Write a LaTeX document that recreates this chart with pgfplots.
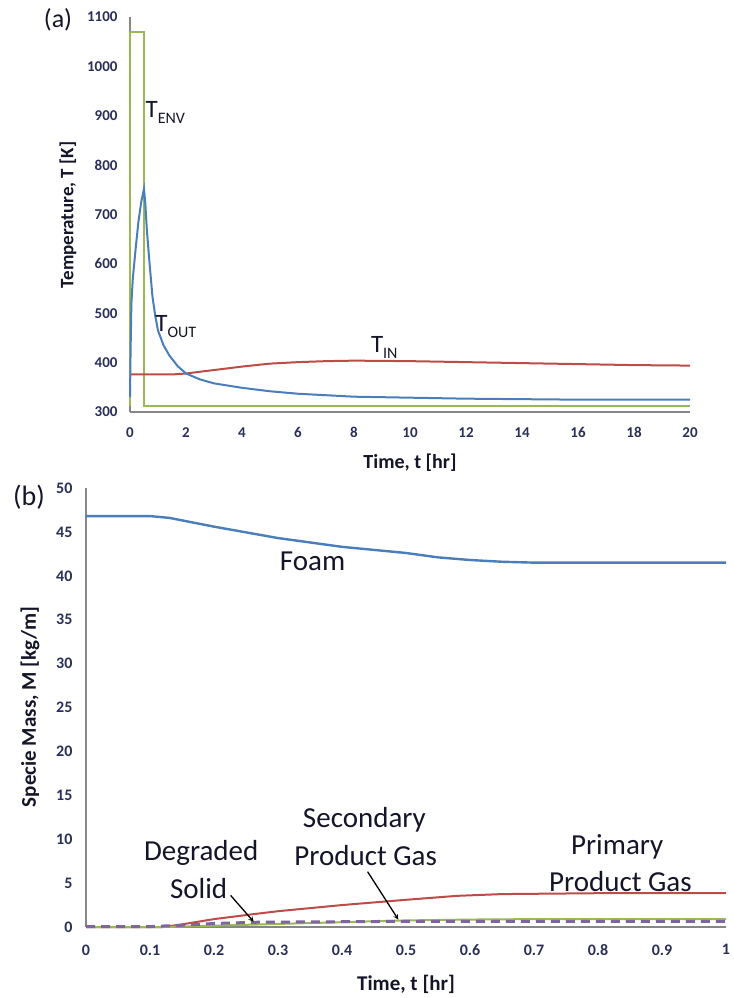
\documentclass[border=0pt]{standalone}
\usepackage{pgfplots}
\pgfplotsset{compat=1.18}
\usepackage{fontspec}
\setmainfont{Carlito}
\definecolor{cblue}{HTML}{4A7EBB}
\definecolor{cred}{HTML}{BE4B48}
\definecolor{cgreen}{HTML}{98B954}
\definecolor{cpurple}{HTML}{8064A2}
\definecolor{axgray}{HTML}{868686}
\definecolor{ticknavy}{HTML}{2A2F5A}
\definecolor{txt}{HTML}{15152A}
\pgfplotsset{myax/.style={scale only axis, axis x line=bottom, axis y line=left,
  axis line style={-, draw=axgray, line width=1.3pt}, major tick length=0pt,
  tick label style={font=\fontsize{15}{18}\selectfont\bfseries, text=ticknavy},
  /pgf/number format/assume math mode=true,
  /pgf/number format/set thousands separator={}, clip=false}}
\begin{document}
\begin{tikzpicture}
\path (0,0) rectangle (730pt,-998pt);
% ---------------- panel (a)
\node[font=\fontsize{26}{26}\selectfont, text=txt] at (58pt,-20pt) {(a)};
\begin{axis}[myax, at={(130pt,-412pt)}, anchor=south west, width=560pt, height=395pt,
  xmin=0, xmax=20, ymin=300, ymax=1100,
  xtick={0,2,...,20}, ytick={300,400,...,1100},
  yticklabel style={xshift=-9pt}, xticklabel style={yshift=-12pt}]
\addplot[cgreen, line width=2pt] coordinates {(0,313) (0,1070) (0.5,1070) (0.5,313) (20,313)};
\addplot[cred, line width=2pt] coordinates {(0,376) (1.5,376) (2,378) (3,385) (4,392) (5,398) (6,401) (7,403) (8,404) (10,403) (12,401) (14,399) (16,397) (18,395) (20,394)};
\addplot[cblue, line width=2pt] coordinates {(0,330) (0.02,420) (0.05,520) (0.1,570) (0.2,630) (0.3,685) (0.4,725) (0.5,752) (0.55,720) (0.6,670) (0.7,600) (0.8,535) (0.9,495) (1.0,465) (1.2,435) (1.4,415) (1.7,393) (2,378) (2.5,366) (3,358) (4,349) (5,342) (6,337) (7,334) (8,331) (10,329) (12,327) (14,326) (16,325) (20,325)};
\node[anchor=base west, font=\fontsize{25}{25}\selectfont, text=txt, inner sep=0pt] at (axis cs:0.55,897) {T\raisebox{-6pt}{\fontsize{16}{16}\selectfont ENV}};
\node[anchor=base west, font=\fontsize{25}{25}\selectfont, text=txt, inner sep=0pt] at (axis cs:0.9,464) {T\raisebox{-6pt}{\fontsize{16}{16}\selectfont OUT}};
\node[anchor=base west, font=\fontsize{25}{25}\selectfont, text=txt, inner sep=0pt] at (axis cs:8.6,420) {T\raisebox{-6pt}{\fontsize{16}{16}\selectfont IN}};
\end{axis}
\node[rotate=90, font=\fontsize{19}{22}\selectfont\bfseries, text=txt] at (68pt,-215pt) {Temperature, T [K]};
\node[font=\fontsize{20}{22}\selectfont\bfseries, text=txt] at (410pt,-463pt) {Time, t [hr]};
% ---------------- panel (b)
\node[font=\fontsize{28}{28}\selectfont, text=txt] at (29pt,-497pt) {(b)};
\begin{axis}[myax, at={(86pt,-927pt)}, anchor=south west, width=640pt, height=439pt,
  xmin=0, xmax=1, ymin=0, ymax=50,
  xtick={0,0.1,0.2,0.3,0.4,0.5,0.6,0.7,0.8,0.9,1}, ytick={0,5,...,50},
  tick label style={font=\fontsize{16}{18}\selectfont\bfseries},
  yticklabel style={xshift=-10pt}, xticklabel style={yshift=-14pt}]
\addplot[cblue, line width=2.4pt] coordinates {(0,46.8) (0.1,46.8) (0.13,46.6) (0.2,45.6) (0.3,44.3) (0.4,43.3) (0.5,42.6) (0.55,42.1) (0.6,41.8) (0.65,41.6) (0.7,41.5) (1,41.5)};
\addplot[cred, line width=2pt] coordinates {(0,0) (0.12,0) (0.15,0.3) (0.2,0.9) (0.26,1.45) (0.3,1.8) (0.4,2.5) (0.5,3.1) (0.58,3.55) (0.65,3.75) (0.8,3.85) (1,3.85)};
\addplot[cgreen, line width=2pt] coordinates {(0,0) (0.12,0) (0.2,0.15) (0.3,0.35) (0.4,0.55) (0.5,0.75) (0.6,0.85) (0.7,0.9) (1,0.9)};
\addplot[cpurple, line width=3pt, dash pattern=on 9pt off 6pt] coordinates {(0,0.05) (0.1,0.05) (0.15,0.2) (0.2,0.4) (0.27,0.55) (0.4,0.6) (0.5,0.65) (1,0.65)};
\node[font=\fontsize{29}{29}\selectfont, text=txt] at (axis cs:0.354,41.6) {Foam};
\node[font=\fontsize{29}{29}\selectfont, text=txt] at (axis cs:0.18,8.4) {Degraded};
\node[font=\fontsize{29}{29}\selectfont, text=txt] at (axis cs:0.176,4.4) {Solid};
\node[font=\fontsize{29}{29}\selectfont, text=txt] at (axis cs:0.435,12.2) {Secondary};
\node[font=\fontsize{29}{29}\selectfont, text=txt] at (axis cs:0.437,8.1) {Product Gas};
\node[font=\fontsize{29}{29}\selectfont, text=txt] at (axis cs:0.83,9.1) {Primary};
\node[font=\fontsize{29}{29}\selectfont, text=txt] at (axis cs:0.835,5.2) {Product Gas};
\draw[-stealth, line width=1.3pt, black] (axis cs:0.226,3.6) -- (axis cs:0.262,0.6);
\draw[-stealth, line width=1.3pt, black] (axis cs:0.44,6.3) -- (axis cs:0.488,0.85);
\end{axis}
\node[rotate=90, font=\fontsize{21}{24}\selectfont\bfseries, text=txt] at (30pt,-707pt) {Specie Mass, M [kg/m]};
\node[font=\fontsize{21}{24}\selectfont\bfseries, text=txt] at (406pt,-984pt) {Time, t [hr]};
\end{tikzpicture}
\end{document}
